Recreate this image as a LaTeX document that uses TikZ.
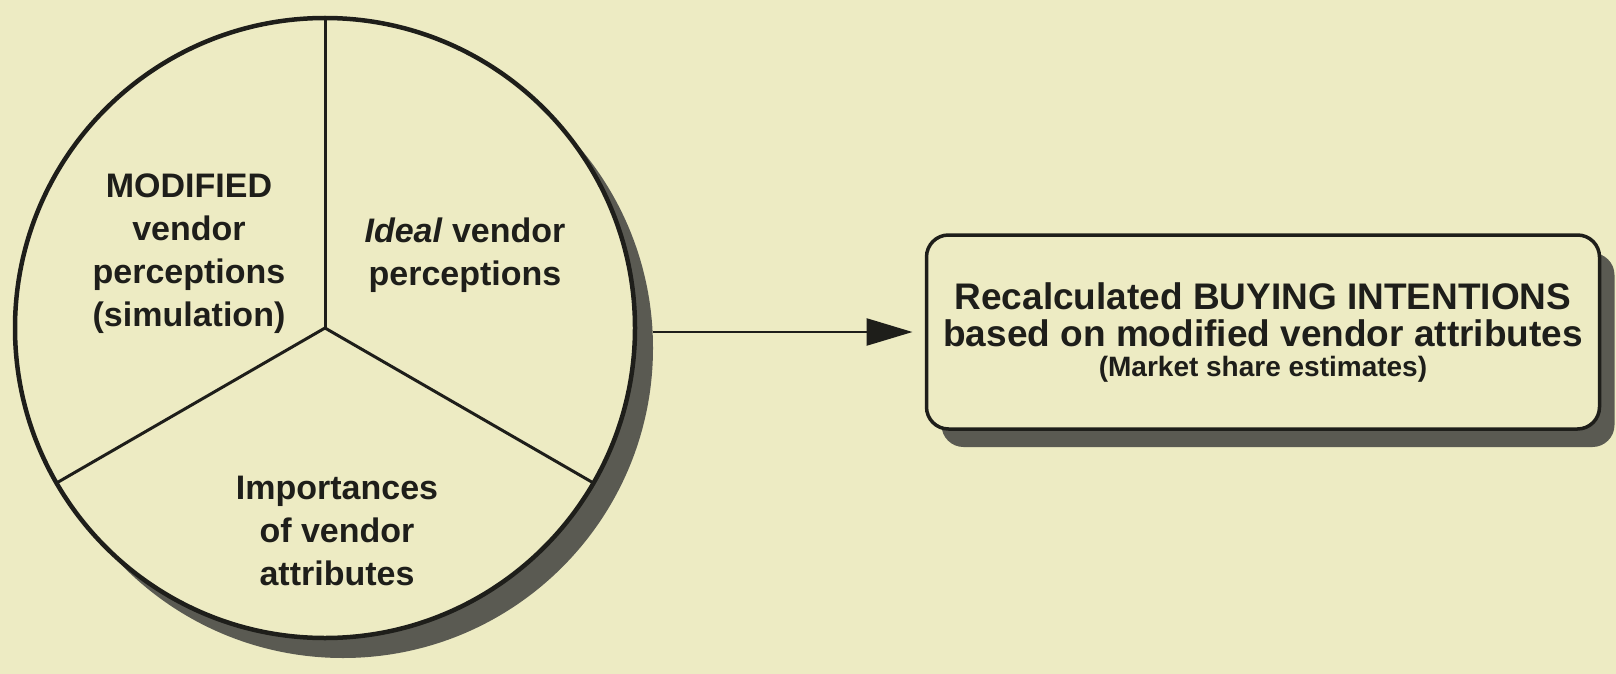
\documentclass[tikz,border=0pt]{standalone}
\usepackage{fontspec}
\setmainfont{Liberation Sans}
\usetikzlibrary{arrows.meta}
\definecolor{paper}{HTML}{EDEBC3}
\definecolor{ink}{HTML}{1E1E1A}
\definecolor{shade}{HTML}{5A5A52}
\begin{document}
\begin{tikzpicture}[x=1pt,y=-1pt,
  pie/.style={circle, minimum size=620pt, inner sep=0pt, outer sep=0pt},
  piebody/.style={pie, draw=ink, fill=paper, line width=4.5pt},
  pieshade/.style={pie, fill=shade},
  divider/.style={draw=ink, line width=3pt},
  sector/.style={align=center, text=ink, font=\fontsize{34}{43}\selectfont\bfseries},
  resbox/.style={rounded corners=22pt, minimum width=673pt, minimum height=194pt,
                 inner sep=0pt, outer sep=0pt},
  resbody/.style={resbox, draw=ink, fill=paper, line width=3.5pt, align=center, text=ink,
                  font=\fontsize{37}{37}\selectfont\bfseries},
  resshade/.style={resbox, fill=shade},
  flow/.style={draw=ink, line width=2.5pt, -{Triangle[length=46pt,width=27pt]}, shorten >=14pt}
]
\fill[paper] (0,0) rectangle (1616,674);
\useasboundingbox (0,0) rectangle (1616,674);

% pie of three inputs, with its drop shadow
\node[pieshade] (pieshadow) at (343,348) {};
\node[piebody] (pie) at (325,328) {};
\draw[divider] (pie.center) -- (pie.90);
\draw[divider] (pie.center) -- (pie.210);
\draw[divider] (pie.center) -- (pie.330);

\node[sector] (modified) at (189,254) {MODIFIED\\vendor\\perceptions\\(simulation)};
\node[sector] (ideal) at (465,255) {\textit{Ideal} vendor\\perceptions};
\node[sector] (importance) at (337,531) {Importances\\of vendor\\attributes};

% result box with its drop shadow
\node[resshade] (resultshadow) at (1278,350) {};
\node[resbody] (result) at (1263,332)
  {Recalculated BUYING INTENTIONS\\
   based on modified vendor attributes\\[-7pt]
   {\fontsize{28}{30}\selectfont (Market share estimates)}};

\draw[flow] (pieshadow.east |- result.west) -- (result.west);
\end{tikzpicture}
\end{document}
